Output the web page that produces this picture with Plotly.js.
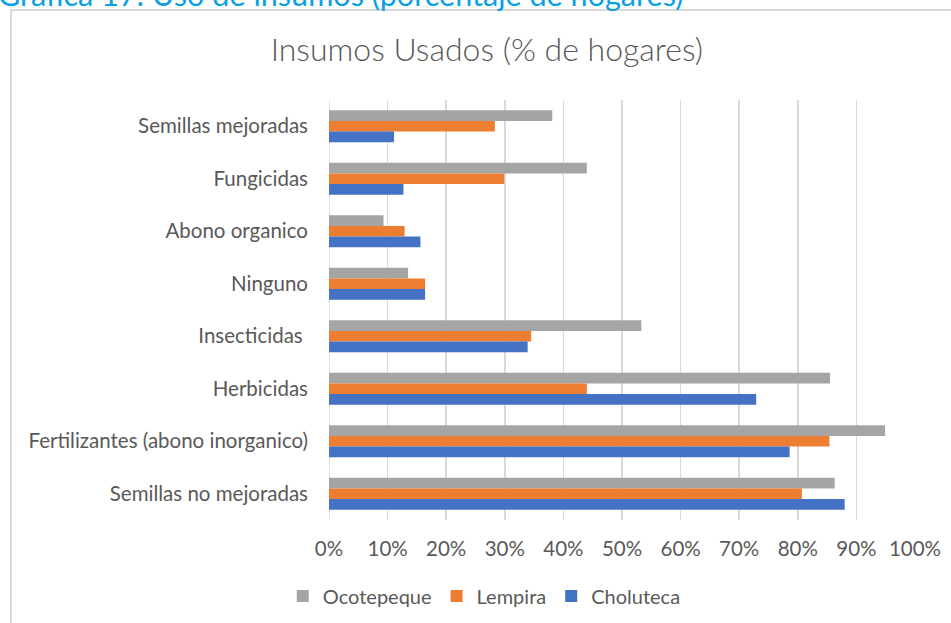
<!DOCTYPE html>
<html>
<head>
<meta charset="utf-8">
<script src="https://cdn.plot.ly/plotly-3.0.1.min.js"></script>
<style>
  html, body { margin: 0; padding: 0; background: #ffffff; overflow: hidden; }
  #wrap { position: relative; width: 951px; height: 623px; }
  #chart { position: absolute; left: 0; top: 0; width: 951px; height: 623px; }
  #frame { position: absolute; left: 10px; top: 9px; width: 960px; height: 640px;
           border: 2px solid #d9d9d9; pointer-events: none; box-sizing: border-box; }
  #header { position: absolute; left: -2px; top: -24px; font-family: Lato, "Open Sans", sans-serif;
            font-size: 30.6px; color: #0aa0e4; white-space: nowrap; }
</style>
</head>
<body>
<div id="wrap">
  <div id="chart"></div>
  <div id="frame"></div>
  <div id="header">Grafica 17: Uso de insumos (porcentaje de hogares)</div>
</div>
<script>
// Categories, top to bottom as shown
const categories = [
  "Semillas mejoradas",
  "Fungicidas",
  "Abono organico",
  "Ninguno",
  "Insecticidas ",
  "Herbicidas",
  "Fertilizantes (abono inorganico)",
  "Semillas no mejoradas"
];
const ocotepeque = [0.381, 0.440, 0.093, 0.135, 0.533, 0.855, 0.949, 0.863];
const lempira    = [0.283, 0.299, 0.129, 0.164, 0.345, 0.440, 0.854, 0.807];
const choluteca  = [0.111, 0.127, 0.156, 0.164, 0.339, 0.729, 0.786, 0.880];
const seriesNames = ["Ocotepeque", "Lempira", "Choluteca"];
const xTickVals = [0, 0.1, 0.2, 0.3, 0.4, 0.5, 0.6, 0.7, 0.8, 0.9, 1.0];
const xTickText = ["0%", "10%", "20%", "30%", "40%", "50%", "60%", "70%", "80%", "90%", "100%"];

const colors = ["#A5A5A5", "#ED7D31", "#4472C4"];
const allValues = [ocotepeque, lempira, choluteca];

const traces = allValues.map((vals, i) => ({
  type: "bar",
  orientation: "h",
  name: seriesNames[i],
  y: categories,
  x: vals,
  marker: { color: colors[i], line: { width: 0 } },
  hoverinfo: "skip"
}));

const fontFam = "Lato, 'Open Sans', sans-serif";

const layout = {
  width: 951,
  height: 623,
  margin: { l: 329, r: 36, t: 100, b: 103, autoexpand: false },
  paper_bgcolor: "rgba(0,0,0,0)",
  plot_bgcolor: "rgba(0,0,0,0)",
  barmode: "group",
  bargap: 0.39,
  bargroupgap: 0,
  font: { family: fontFam, color: "#595959", size: 20 },
  title: {
    text: "Insumos Usados (% de hogares)",
    font: { family: fontFam, size: 32, color: "#595959", weight: 300 },
    x: 0.512, xanchor: "center", xref: "container",
    y: 0.92, yanchor: "middle", yref: "container"
  },
  xaxis: {
    range: [0, 1],
    tickvals: xTickVals,
    ticktext: xTickText,
    showgrid: true,
    gridcolor: "#d9d9d9",
    gridwidth: 1.5,
    zeroline: false,
    showline: false,
    ticks: "",
    automargin: false,
    ticklabelstandoff: 14,
    tickfont: { family: fontFam, size: 20.5, color: "#595959" },
    fixedrange: true
  },
  yaxis: {
    type: "category",
    autorange: "reversed",
    showgrid: false,
    zeroline: false,
    showline: false,
    ticks: "",
    automargin: false,
    ticklabelstandoff: 20,
    tickfont: { family: fontFam, size: 20.5, color: "#595959" },
    fixedrange: true
  },
  shapes: [{
    type: "line", xref: "x", yref: "paper", x0: 0, x1: 0, y0: 0, y1: 1,
    line: { color: "#d9d9d9", width: 1.5 }, layer: "below"
  }],
  showlegend: true,
  legend: {
    orientation: "h",
    x: 0.265, xanchor: "center",
    y: -0.181, yanchor: "middle",
    font: { family: fontFam, size: 20, color: "#595959" },
    itemwidth: 30,
    traceorder: "normal"
  }
};

Plotly.newPlot("chart", traces, layout, { displayModeBar: false, staticPlot: true });
</script>
</body>
</html>
